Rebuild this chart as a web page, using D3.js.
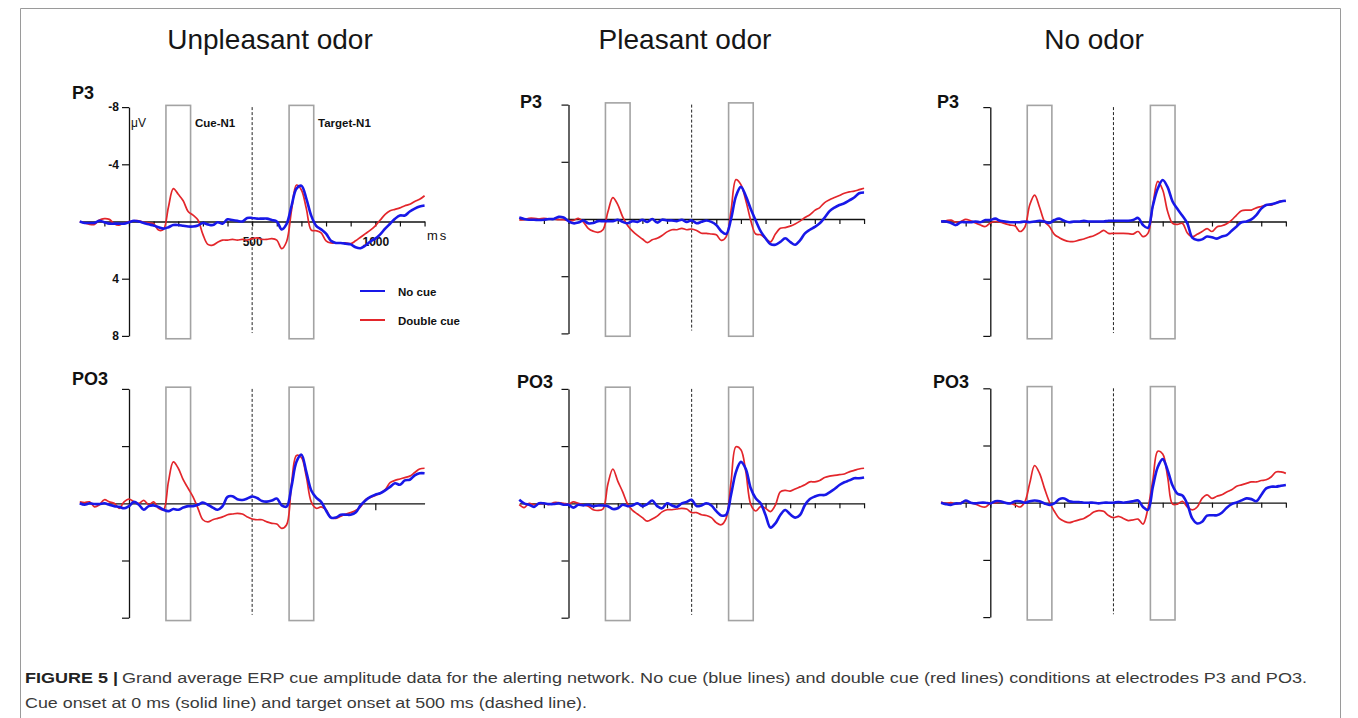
<!DOCTYPE html>
<html><head><meta charset="utf-8">
<script src="https://cdn.jsdelivr.net/npm/d3@7"></script>
<style>body{margin:0;background:#fff}svg{display:block;font-family:"Liberation Sans",Arial,sans-serif}</style>
</head><body><svg id="c" width="1358" height="718"></svg>
<script>
// ---------- DATA ----------
const times = [-200,-180,-160,-140,-120,-100,-80,-60,-40,-20,0,20,40,60,80,100,120,140,160,180,200,220,240,260,280,300,320,340,360,380,400,420,440,460,480,500,520,540,560,580,600,620,640,660,680,700,720,740,760,780,800,820,840,860,880,900,920,940,960,980,1000,1020,1040,1060,1080,1100,1120,1140,1160,1180,1200];
const conditions = ["Unpleasant odor", "Pleasant odor", "No odor"];
const electrodes = ["P3", "PO3"];
const seriesNames = ["No cue", "Double cue"];
const yTickValues = [-8, -4, 4, 8];
const xTickValues = [-100,0,100,200,300,400,500,600,700,800,900,1000,1100,1200];
const xTickLabels = [500, 1000];
const cueWindow = [150, 250];
const targetWindow = [650, 750];
const targetOnset = 500;

// µV values (negative plotted upward)
const unpleasantP3NoCue = [0.0,0.1,0.1,0.1,-0.05,0.05,0.15,0.15,0.15,0.15,0.05,-0.05,0.0,0.1,0.2,0.28,0.4,0.5,0.4,0.25,0.25,0.3,0.35,0.35,0.28,0.1,0.2,0.25,0.05,0.15,-0.15,-0.1,-0.05,0.0,-0.25,-0.25,-0.2,-0.2,-0.2,-0.1,0.0,0.55,0.16,-1.1,-2.3,-2.5,-1.6,-0.4,0.3,0.55,0.85,1.35,1.5,1.5,1.55,1.6,1.8,1.87,1.68,1.4,1.2,0.9,0.5,0.16,-0.19,-0.42,-0.42,-0.7,-0.9,-1.05,-1.12];
const unpleasantP3Double = [0.0,0.1,0.2,0.2,-0.1,-0.2,-0.15,0.15,0.25,0.1,0.0,-0.05,-0.05,0.05,0.1,0.15,0.6,0.55,-1.0,-2.3,-1.9,-1.45,-0.7,-0.45,-0.1,0.9,1.6,1.65,1.45,1.3,1.3,1.25,1.3,1.25,1.3,1.2,1.15,1.25,1.25,1.2,1.3,1.9,1.4,-0.8,-2.55,-2.2,-0.9,0.6,0.65,0.8,1.35,1.5,1.5,1.5,1.5,1.55,1.35,1.1,0.85,0.6,0.3,-0.1,-0.5,-0.75,-0.85,-0.95,-1.1,-1.2,-1.4,-1.55,-1.8];
const pleasantP3NoCue = [-0.1,0.0,0.05,0.05,0.07,0.05,0.0,0.0,-0.15,-0.1,0.15,0.3,0.25,0.1,0.3,0.28,0.15,0.15,0.15,0.15,0.05,0.2,0.3,0.15,0.2,0.05,0.2,0.0,0.25,0.05,0.1,0.1,0.15,0.05,0.2,0.1,0.3,0.2,0.1,0.2,0.42,0.85,1.05,0.0,-1.6,-2.25,-1.6,-0.7,0.1,0.85,1.35,1.75,1.8,1.6,1.35,1.6,1.8,1.5,1.0,0.75,0.55,0.3,-0.1,-0.55,-0.8,-0.98,-1.1,-1.3,-1.5,-1.8,-1.85];
const pleasantP3Double = [0.07,0.05,-0.05,-0.05,0.0,-0.05,0.0,0.0,0.05,0.05,0.1,0.1,-0.05,0.2,0.65,0.85,0.93,0.75,-0.5,-1.5,-1.0,-0.15,0.45,0.85,1.15,1.4,1.65,1.45,1.35,1.15,0.9,0.75,0.75,0.65,0.75,0.7,0.8,1.0,1.0,1.05,1.1,1.5,1.25,-0.6,-2.75,-2.4,-1.3,0.1,1.05,1.1,1.35,1.6,1.05,0.65,0.6,0.5,0.35,0.15,-0.1,-0.3,-0.6,-0.8,-1.15,-1.35,-1.5,-1.65,-1.8,-1.9,-1.95,-2.05,-2.15];
const noOdorP3NoCue = [0.0,0.0,0.1,0.25,0.05,0.05,0.05,0.0,0.05,-0.1,-0.1,-0.2,-0.05,0.0,0.05,0.05,0.05,0.0,0.05,0.0,-0.05,0.0,0.1,-0.1,-0.2,-0.05,0.05,0.0,0.0,-0.05,0.0,0.0,0.0,0.0,-0.05,-0.05,-0.05,-0.05,-0.05,-0.1,-0.25,0.25,0.45,-1.1,-2.3,-2.9,-2.4,-1.4,-0.87,-0.4,0.13,1.13,1.3,1.25,1.05,1.1,1.2,1.05,0.95,0.65,0.35,0.05,0.0,-0.15,-0.45,-0.9,-1.15,-1.2,-1.3,-1.4,-1.45];
const noOdorP3Double = [0.0,-0.05,-0.1,0.05,0.0,-0.15,-0.05,0.1,0.25,0.35,0.1,0.0,0.05,0.15,0.25,0.3,0.7,0.4,-1.15,-1.85,-1.0,0.0,0.35,0.9,1.13,1.3,1.4,1.4,1.3,1.22,1.1,1.0,0.83,0.62,0.83,0.83,0.83,0.83,0.85,0.88,0.7,1.06,0.83,-1.15,-2.8,-2.2,-0.7,0.13,0.2,0.13,0.8,1.06,0.9,0.7,0.5,0.7,0.38,0.3,0.15,-0.1,-0.45,-0.75,-0.8,-0.8,-0.95,-1.05,-1.15,-1.15,-1.3,-1.45,-1.4];
const unpleasantPO3NoCue = [0.0,0.1,0.0,0.05,0.05,0.0,0.1,0.2,0.25,0.35,0.2,-0.1,0.1,0.45,0.2,0.15,0.25,0.45,0.55,0.4,0.45,0.3,0.2,0.2,0.1,-0.05,0.1,0.3,0.45,0.2,-0.45,-0.5,-0.28,-0.23,-0.33,-0.47,-0.37,-0.16,-0.12,-0.19,-0.33,0.14,0.23,-1.2,-2.9,-3.4,-2.2,-0.9,-0.4,-0.1,0.5,1.0,1.0,0.8,0.8,0.8,0.65,0.15,-0.2,-0.45,-0.6,-0.7,-0.9,-1.15,-1.4,-1.3,-1.6,-1.65,-1.95,-2.1,-2.1];
const unpleasantPO3Double = [-0.1,-0.05,-0.1,0.25,0.1,-0.25,-0.1,0.0,0.35,-0.1,-0.3,-0.1,0.0,-0.2,0.1,-0.1,0.35,0.45,-1.5,-2.9,-2.45,-1.65,-1.05,-0.45,0.35,1.15,1.3,1.15,1.05,0.95,0.8,0.75,0.7,0.75,0.95,1.1,1.15,1.15,1.3,1.4,1.45,1.75,1.5,-1.4,-3.35,-3.2,-1.85,-0.1,0.35,0.25,0.45,1.0,1.05,0.9,0.75,0.65,0.5,0.25,-0.25,-0.4,-0.55,-0.7,-0.95,-1.45,-1.6,-1.7,-1.8,-1.9,-2.15,-2.4,-2.45];
const pleasantPO3NoCue = [-0.25,0.0,0.1,0.25,0.0,0.0,0.05,0.05,0.0,0.1,0.1,0.3,0.1,0.15,0.1,0.2,0.15,0.15,0.2,0.4,0.35,0.1,0.2,0.15,0.0,0.2,0.05,-0.2,0.2,0.35,0.0,0.15,0.25,0.0,-0.1,-0.25,0.2,0.15,0.0,0.15,0.55,0.85,0.8,-0.6,-2.2,-2.9,-2.4,-1.05,-0.35,0.0,0.82,1.7,1.4,0.82,0.47,0.77,1.0,0.82,0.12,-0.3,-0.47,-0.58,-0.58,-0.77,-1.0,-1.28,-1.47,-1.6,-1.75,-1.75,-1.8];
const pleasantPO3Double = [0.1,0.3,0.0,0.1,0.05,0.0,0.1,-0.05,-0.05,0.0,0.05,-0.1,0.0,0.1,0.2,0.45,0.5,0.4,-1.35,-2.4,-1.55,-0.8,0.05,0.5,0.75,1.0,1.25,1.1,0.9,0.6,0.45,0.45,0.4,0.35,0.4,0.65,0.65,0.8,0.85,1.0,1.35,1.5,1.05,-1.5,-3.95,-3.75,-2.2,0.07,0.54,0.23,0.35,0.58,0.12,-0.8,-0.9,-0.85,-1.0,-1.15,-1.3,-1.5,-1.5,-1.6,-1.8,-1.9,-1.95,-2.0,-2.05,-2.2,-2.3,-2.4,-2.45];
const noOdorPO3NoCue = [0.0,0.1,0.15,0.05,0.05,-0.15,0.0,0.05,0.0,0.0,0.05,-0.1,-0.1,0.0,0.05,-0.1,-0.1,0.0,-0.1,-0.15,-0.1,0.05,0.15,0.05,-0.25,-0.3,-0.1,-0.05,-0.05,0.0,0.0,0.0,0.05,0.0,0.0,0.0,-0.05,0.0,-0.05,-0.1,-0.15,0.3,0.5,-1.1,-2.5,-3.05,-2.28,-1.2,-0.63,-0.5,0.1,1.1,1.45,1.33,0.9,0.88,0.87,0.7,0.35,0.1,-0.02,-0.16,-0.3,-0.25,-0.1,-0.54,-1.0,-1.12,-1.12,-1.19,-1.24];
const noOdorPO3Double = [-0.05,0.05,0.0,0.1,0.0,-0.1,0.0,0.1,0.25,0.3,0.05,0.0,-0.05,0.0,0.05,0.15,0.3,-0.05,-1.35,-2.6,-2.05,-1.0,-0.05,0.6,1.1,1.3,1.4,1.3,1.2,1.1,0.9,0.65,0.55,0.6,0.9,1.05,0.95,1.1,1.25,1.2,1.15,1.5,0.4,-1.6,-3.6,-3.4,-1.8,0.1,0.1,-0.1,0.3,0.5,0.3,-0.3,-0.55,-0.3,-0.45,-0.55,-0.75,-0.9,-1.15,-1.25,-1.35,-1.45,-1.45,-1.55,-1.6,-1.8,-2.15,-2.15,-2.05];

const panelSeries = [
  [[unpleasantP3NoCue, unpleasantP3Double], [pleasantP3NoCue, pleasantP3Double], [noOdorP3NoCue, noOdorP3Double]],
  [[unpleasantPO3NoCue, unpleasantPO3Double], [pleasantPO3NoCue, pleasantPO3Double], [noOdorPO3NoCue, noOdorPO3Double]]
];

// ---------- LAYOUT ----------
const W = 1358, H = 718;
const colZeroX = [129, 568.5, 990.3];
const rowZeroY = [[221.5, 219, 221.5], [503.3, 503.3, 502.7]];
const pxPerMs = 0.2463, pxPerUV = 14.3;
const titleX = [270, 685, 1094];
const labelPos = [[[72, 99], [520, 108], [937, 108]], [[72, 385], [517, 388], [933, 388]]];
const BLUE = "#1818e8", RED = "#e3262b";

const svg = d3.select("#c");
svg.append("rect").attr("width", W).attr("height", H).attr("fill", "#fff");
svg.append("path").attr("d", "M20.5,718V8.5H1340.5V718").attr("fill", "none").attr("stroke", "#9a9a9a").attr("stroke-width", 1);

conditions.forEach((c, ci) => {
  svg.append("text").attr("x", titleX[ci]).attr("y", 49).attr("text-anchor", "middle")
    .attr("font-size", 28).attr("fill", "#161616").text(c);
});

electrodes.forEach((el, ri) => {
  conditions.forEach((c, ci) => {
    const cx = colZeroX[ci], cy = rowZeroY[ri][ci];
    const x = d3.scaleLinear().domain([-200, 1200]).range([cx - 200 * pxPerMs, cx + 1200 * pxPerMs]);
    const y = d3.scaleLinear().domain([-8, 8]).range([cy - 8 * pxPerUV, cy + 8 * pxPerUV]);
    const g = svg.append("g");
    const first = ri === 0 && ci === 0;

    g.append("text").attr("x", labelPos[ri][ci][0]).attr("y", labelPos[ri][ci][1])
      .attr("font-size", 18).attr("font-weight", "bold").attr("fill", "#111").text(el);

    [cueWindow, targetWindow].forEach(w => {
      g.append("rect").attr("x", x(w[0])).attr("y", y(-8.12)).attr("width", x(w[1]) - x(w[0]))
        .attr("height", y(8.2) - y(-8.12)).attr("fill", "none").attr("stroke", "#a3a3a3").attr("stroke-width", 1.6);
    });
    g.append("line").attr("x1", x(targetOnset)).attr("x2", x(targetOnset)).attr("y1", y(-8)).attr("y2", y(7.8))
      .attr("stroke", "#222").attr("stroke-width", 1).attr("stroke-dasharray", "3,2");

    const ya = g.append("g").attr("transform", `translate(${x(0)},0)`)
      .call(d3.axisLeft(y).tickValues(yTickValues).tickSize(7).tickSizeOuter(0)
        .tickFormat(first ? (d => String(d)) : ""));
    const xt = (ri === 1 && ci === 0) ? [1000] : xTickValues;
    const xa = g.append("g").attr("transform", `translate(0,${y(0)})`)
      .call(d3.axisBottom(x).tickValues(xt).tickSize(ri === 1 && ci === 0 ? 7 : 5).tickSizeOuter(0)
        .tickFormat(first ? (d => xTickLabels.includes(d) ? String(d) : "") : ""));
    [ya, xa].forEach(a => {
      a.select(".domain").attr("stroke", "#111").attr("stroke-width", 1.3);
      a.selectAll(".tick line").attr("stroke", "#111").attr("stroke-width", 1.2);
      a.selectAll(".tick text").attr("font-size", 12).attr("font-weight", "bold")
        .attr("font-family", "Liberation Sans, Arial, sans-serif").attr("fill", "#111");
    });
    xa.selectAll(".tick text").attr("y", 15.5);

    const line = d3.line().x((d, i) => x(times[i])).y(d => y(d)).curve(d3.curveCatmullRom.alpha(0.5));
    const [nocue, dbl] = panelSeries[ri][ci];
    g.append("path").datum(dbl).attr("d", line).attr("fill", "none").attr("stroke", RED).attr("stroke-width", 1.7);
    g.append("path").datum(nocue).attr("d", line).attr("fill", "none").attr("stroke", BLUE).attr("stroke-width", 2.6);

    if (first) {
      g.append("text").attr("x", x(0) + 2).attr("y", 127).attr("font-size", 12).attr("fill", "#111").text("μV");
      g.append("text").attr("x", 195).attr("y", 127).attr("font-size", 11.5).attr("font-weight", "bold").attr("fill", "#111").text("Cue-N1");
      g.append("text").attr("x", 318).attr("y", 127).attr("font-size", 11.5).attr("font-weight", "bold").attr("fill", "#111").text("Target-N1");
      g.append("text").attr("x", 427).attr("y", 240).attr("font-size", 13).attr("letter-spacing", 2).attr("fill", "#111").text("ms");
      const leg = [[seriesNames[0], BLUE, 291], [seriesNames[1], RED, 320]];
      leg.forEach(([n, col, ly]) => {
        g.append("line").attr("x1", 360).attr("x2", 385).attr("y1", ly).attr("y2", ly).attr("stroke", col).attr("stroke-width", 2);
        g.append("text").attr("x", 398).attr("y", ly + 4.5).attr("font-size", 11.5).attr("font-weight", "bold").attr("fill", "#111").text(n);
      });
    }
  });
});

svg.append("text").attr("x", 25).attr("y", 683).attr("font-size", 15.5).attr("font-weight", "bold").attr("fill", "#222")
  .attr("textLength", 93).attr("lengthAdjust", "spacingAndGlyphs").text("FIGURE 5 |");
svg.append("text").attr("x", 122).attr("y", 683).attr("font-size", 15.5).attr("fill", "#3a3a3a")
  .attr("textLength", 1185).attr("lengthAdjust", "spacingAndGlyphs")
  .text("Grand average ERP cue amplitude data for the alerting network. No cue (blue lines) and double cue (red lines) conditions at electrodes P3 and PO3.");
svg.append("text").attr("x", 25).attr("y", 708).attr("font-size", 15.5).attr("fill", "#3a3a3a")
  .attr("textLength", 562).attr("lengthAdjust", "spacingAndGlyphs")
  .text("Cue onset at 0 ms (solid line) and target onset at 500 ms (dashed line).");
</script></body></html>
